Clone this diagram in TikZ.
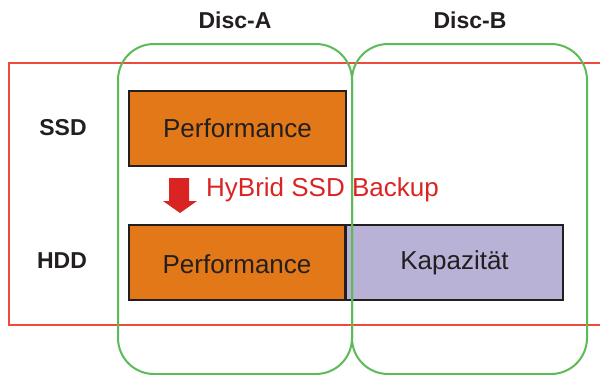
\documentclass[tikz,border=0pt]{standalone}
\usepackage{fontspec}
\setmainfont{Liberation Sans}
\definecolor{orangefill}{HTML}{E37819}
\definecolor{lavfill}{HTML}{B8B2D6}
\definecolor{darktext}{HTML}{231F20}
\definecolor{redline}{HTML}{EE4B3E}
\definecolor{greenline}{HTML}{5DBB57}
\definecolor{redtext}{HTML}{DA2424}
\tikzset{
  blockbox/.style={draw=darktext, line width=2pt, text=darktext, font=\fontsize{26}{30}\selectfont, inner sep=0pt},
  rowlabel/.style={text=darktext, font=\fontsize{23}{27}\selectfont\bfseries},
  discframe/.style={draw=greenline, line width=2pt, rounded corners=36pt},
}
\begin{document}
\begin{tikzpicture}[x=1pt,y=-1pt]
\useasboundingbox (0,0) rectangle (600,375);
% boxes
\node[blockbox, fill=orangefill, minimum width=217pt, minimum height=75pt, anchor=north west] (ssdperf) at (128,90) {Performance};
\node[blockbox, fill=orangefill, minimum width=216pt, minimum height=75pt, anchor=north west, text depth=0pt] (hddperf) at (128,224) {\raisebox{-3pt}{Performance}};
\node[blockbox, fill=lavfill, minimum width=217pt, minimum height=75pt, anchor=north west] (kap) at (345,224) {Kapazität};
% red frame
\begin{scope}
\clip (0,0) rectangle (600,375);
\draw[redline, line width=1.8pt] (9,63) rectangle (640,325);
\end{scope}
% green frames
\draw[discframe] (118,44) rectangle (352,374);
\draw[discframe] (352,44) rectangle (587,374);
% labels
\node[rowlabel] (disca) at (235,20) {Disc-A};
\node[rowlabel] (discb) at (470,20) {Disc-B};
\node[rowlabel] (ssd) at (63,128) {SSD};
\node[rowlabel] (hdd) at (62,261) {HDD};
% arrow
\fill[redtext] (169,178) -- (189,178) -- (189,201) -- (197,201) -- (180,213) -- (163,201) -- (169,201) -- cycle;
\node[anchor=west, text=redtext, font=\fontsize{26}{30}\selectfont, inner sep=0pt] (backup) at (206,190) {HyBrid SSD Backup};
\end{tikzpicture}
\end{document}
